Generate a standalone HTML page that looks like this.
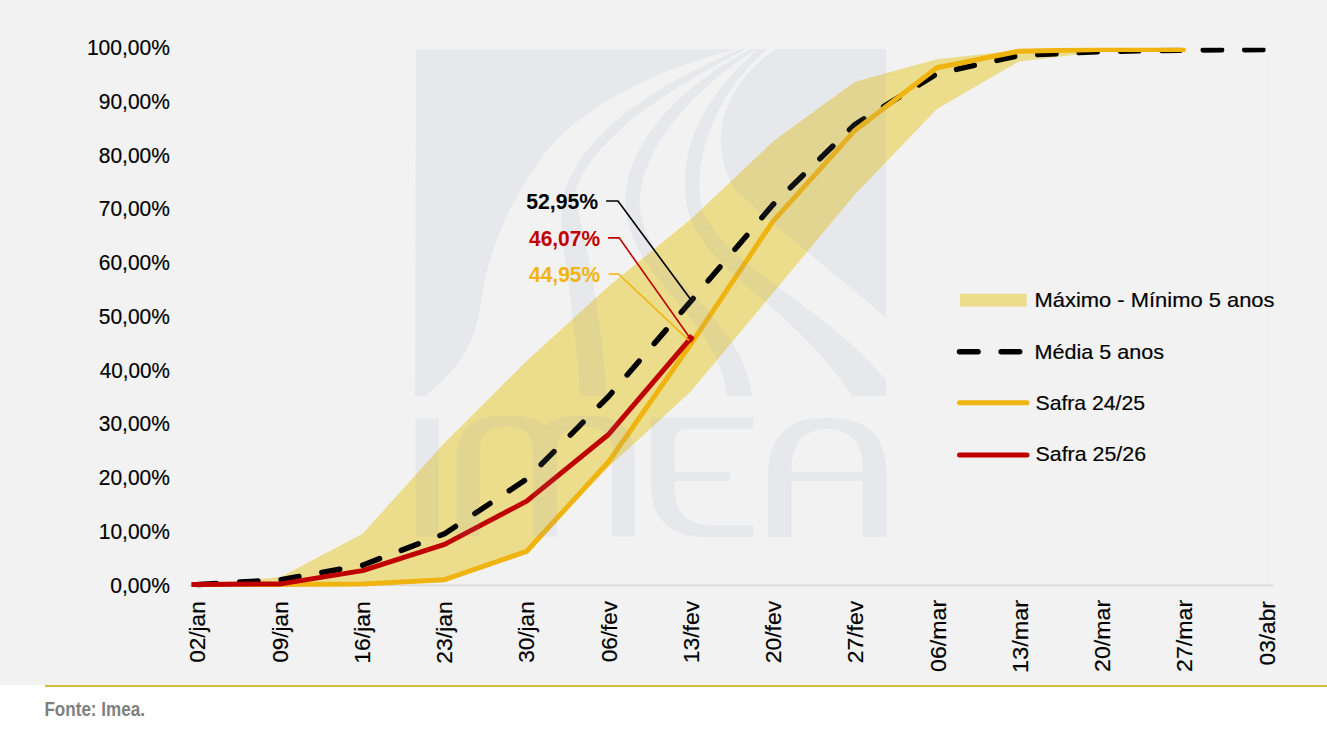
<!DOCTYPE html>
<html><head><meta charset="utf-8"><style>
html,body{margin:0;padding:0;width:1327px;height:732px;overflow:hidden;background:#fff;font-family:"Liberation Sans",sans-serif}
svg{display:block}
</style></head><body>
<svg width="1327" height="732" viewBox="0 0 1327 732" font-family='"Liberation Sans", sans-serif'>
<defs><clipPath id="pa"><rect x="150" y="47.8" width="1177" height="560"/></clipPath></defs>
<rect x="0" y="0" width="1327" height="685" fill="#f2f2f2"/>
<rect x="0" y="685" width="1327" height="47" fill="#ffffff"/>
<rect x="45" y="685" width="1282" height="2" fill="#d6bc3c"/>
<polygon points="198.5,584.5 280.6,577.0 362.6,533.7 444.6,442.8 526.7,360.9 608.8,286.0 690.8,219.2 772.9,141.6 854.9,81.7 936.9,59.2 1019.0,50.1 1101.0,49.6 1183.1,49.6 1265.1,49.6 1265.1,49.6 1183.1,49.6 1101.0,51.7 1019.0,61.4 936.9,109.0 854.9,194.6 772.9,293.0 690.8,391.4 608.8,466.8 526.7,551.3 444.6,579.7 362.6,584.0 280.6,584.5 198.5,584.5" fill="#ecdd8c"/>
<rect x="189" y="584.6" width="1084" height="1.5" fill="#d8d8d8"/><rect x="1267.2" y="52" width="1" height="533" fill="#eeeeee"/>
<polyline points="198.5,584.5 280.6,579.7 362.6,565.2 444.6,533.7 526.7,479.1 608.8,396.2 690.8,301.3 772.9,204.7 854.9,124.5 936.9,73.7 1019.0,55.5 1101.0,51.5 1183.1,50.1 1265.1,49.6" fill="none" stroke="#000" stroke-width="5.5" stroke-dasharray="18.2 23.2" stroke-dashoffset="0.1" stroke-linecap="round" stroke-linejoin="round" clip-path="url(#pa)"/>
<polyline points="198.5,584.5 280.6,584.5 362.6,584.0 444.6,579.7 526.7,551.3 608.8,461.5 690.8,344.1 772.9,221.3 854.9,130.4 936.9,67.8 1019.0,51.2 1101.0,49.6 1183.1,49.6" fill="none" stroke="#f0b411" stroke-width="5" stroke-linejoin="round" stroke-linecap="square" clip-path="url(#pa)"/>
<polyline points="191.4,584.5 198.5,584.5 280.6,583.9 362.6,570.6 444.6,544.4 526.7,501.1 608.8,434.2 690.8,338.1" fill="none" stroke="#c00000" stroke-width="5" stroke-linejoin="round"/>
<g fill="#969ebe" opacity="0.11">
<path d="M416,49.2 L738,49.2 C655,68 575,110 540,160 C505,210 490,250 483,290 C476,335 470,360 425,396 L415,396 Z"/>
<path d="M741,49 C655,85 585,130 563,195 C556,230 575,300 580,396 L607,396 C600,300 584,235 574,195 C590,140 665,90 747,49 Z"/>
<path d="M750,49 C675,90 620,150 626,210 C632,280 720,320 727,396 L752,396 C740,310 650,280 640,210 C636,150 695,88 757,49 Z"/>
<path d="M758,49 C700,100 680,150 686,200 C695,270 790,300 852,396 L886,396 L886,380 C820,300 710,260 700,200 C695,150 718,92 767,49 Z"/>
<path d="M775,49 L886,49 L886,318 C850,285 790,240 735,190 C712,150 712,95 775,49 Z"/>
<rect x="415.5" y="418.3" width="23.2" height="118.5"/>
<path fill-rule="evenodd" d="M456.8,536.6 V458 Q456.8,415.8 501.8,415.8 H511.8 Q556.8,415.8 556.8,458 V536.6 Z M479.6,536.6 V452 Q479.6,426.7 505.6,426.7 H507 Q533,426.7 533,452 V536.6 Z"/>
<path fill-rule="evenodd" d="M533,536.6 V458 Q533,415.8 578,415.8 H590 Q635,415.8 635,458 V536.6 Z M556.8,536.6 V452 Q556.8,426.7 583,426.7 H586 Q612.3,426.7 612.3,452 V536.6 Z"/>
<path d="M651.3,417.4 H753.3 V428.7 H688 Q674.8,428.7 674.8,442 V471.7 H730.2 V481 H674.8 V490 Q674.8,525.4 715,525.4 H753.3 V536.9 H707 Q651.3,536.9 651.3,485 Z"/>
<path fill-rule="evenodd" d="M768.1,536.9 V475 Q768.1,418 825,418 H830 Q886.5,418 886.5,475 V536.9 Z M791.6,536.9 V481 H862.7 V536.9 Z M791.6,471.7 H862.7 V468 Q862.7,428.7 825,428.7 H830 Q791.6,428.7 791.6,468 Z"/>
</g>

<text x="110.20" y="592.50" font-size="21.50" textLength="59.70" lengthAdjust="spacingAndGlyphs" fill="#000" stroke="#000" stroke-width="0.18">0,00%</text>
<text x="98.80" y="538.78" font-size="21.50" textLength="71.10" lengthAdjust="spacingAndGlyphs" fill="#000" stroke="#000" stroke-width="0.18">10,00%</text>
<text x="98.80" y="485.06" font-size="21.50" textLength="71.10" lengthAdjust="spacingAndGlyphs" fill="#000" stroke="#000" stroke-width="0.18">20,00%</text>
<text x="98.80" y="431.34" font-size="21.50" textLength="71.10" lengthAdjust="spacingAndGlyphs" fill="#000" stroke="#000" stroke-width="0.18">30,00%</text>
<text x="99.80" y="377.62" font-size="21.50" textLength="70.10" lengthAdjust="spacingAndGlyphs" fill="#000" stroke="#000" stroke-width="0.18">40,00%</text>
<text x="98.80" y="323.90" font-size="21.50" textLength="71.10" lengthAdjust="spacingAndGlyphs" fill="#000" stroke="#000" stroke-width="0.18">50,00%</text>
<text x="98.80" y="270.18" font-size="21.50" textLength="71.10" lengthAdjust="spacingAndGlyphs" fill="#000" stroke="#000" stroke-width="0.18">60,00%</text>
<text x="98.80" y="216.46" font-size="21.50" textLength="71.10" lengthAdjust="spacingAndGlyphs" fill="#000" stroke="#000" stroke-width="0.18">70,00%</text>
<text x="98.80" y="162.74" font-size="21.50" textLength="71.10" lengthAdjust="spacingAndGlyphs" fill="#000" stroke="#000" stroke-width="0.18">80,00%</text>
<text x="98.80" y="109.02" font-size="21.50" textLength="71.10" lengthAdjust="spacingAndGlyphs" fill="#000" stroke="#000" stroke-width="0.18">90,00%</text>
<text x="86.90" y="55.30" font-size="21.50" textLength="83.00" lengthAdjust="spacingAndGlyphs" fill="#000" stroke="#000" stroke-width="0.18">100,00%</text>
<text x="1034.50" y="306.90" font-size="21.00" textLength="240.00" lengthAdjust="spacingAndGlyphs" fill="#000" stroke="#000" stroke-width="0.18">Máximo - Mínimo 5 anos</text>
<text x="1034.50" y="358.70" font-size="21.00" textLength="129.50" lengthAdjust="spacingAndGlyphs" fill="#000" stroke="#000" stroke-width="0.18">Média 5 anos</text>
<text x="1035.50" y="409.80" font-size="21.00" textLength="109.60" lengthAdjust="spacingAndGlyphs" fill="#000" stroke="#000" stroke-width="0.18">Safra 24/25</text>
<text x="1035.50" y="461.20" font-size="21.00" textLength="110.60" lengthAdjust="spacingAndGlyphs" fill="#000" stroke="#000" stroke-width="0.18">Safra 25/26</text>
<text x="526.20" y="208.60" font-size="21.40" font-weight="bold" textLength="72.00" lengthAdjust="spacingAndGlyphs" fill="#000000">52,95%</text>
<text x="529.00" y="245.50" font-size="21.40" font-weight="bold" textLength="71.00" lengthAdjust="spacingAndGlyphs" fill="#c00000">46,07%</text>
<text x="529.00" y="281.50" font-size="21.40" font-weight="bold" textLength="71.10" lengthAdjust="spacingAndGlyphs" fill="#f0b411">44,95%</text>
<text x="44.40" y="715.70" font-size="19.40" font-weight="bold" textLength="100.60" lengthAdjust="spacingAndGlyphs" fill="#7f7f7f">Fonte: Imea.</text>
<text transform="translate(205.00,662.70) rotate(-90)" x="0" y="0" font-size="21.5" textLength="61.40" lengthAdjust="spacingAndGlyphs" fill="#000" stroke="#000" stroke-width="0.18">02/jan</text>
<text transform="translate(287.75,662.70) rotate(-90)" x="0" y="0" font-size="21.5" textLength="61.40" lengthAdjust="spacingAndGlyphs" fill="#000" stroke="#000" stroke-width="0.18">09/jan</text>
<text transform="translate(369.50,663.70) rotate(-90)" x="0" y="0" font-size="21.5" textLength="62.40" lengthAdjust="spacingAndGlyphs" fill="#000" stroke="#000" stroke-width="0.18">16/jan</text>
<text transform="translate(452.25,663.70) rotate(-90)" x="0" y="0" font-size="21.5" textLength="62.40" lengthAdjust="spacingAndGlyphs" fill="#000" stroke="#000" stroke-width="0.18">23/jan</text>
<text transform="translate(534.00,662.70) rotate(-90)" x="0" y="0" font-size="21.5" textLength="61.40" lengthAdjust="spacingAndGlyphs" fill="#000" stroke="#000" stroke-width="0.18">30/jan</text>
<text transform="translate(616.75,662.30) rotate(-90)" x="0" y="0" font-size="21.5" textLength="61.40" lengthAdjust="spacingAndGlyphs" fill="#000" stroke="#000" stroke-width="0.18">06/fev</text>
<text transform="translate(698.50,663.30) rotate(-90)" x="0" y="0" font-size="21.5" textLength="62.40" lengthAdjust="spacingAndGlyphs" fill="#000" stroke="#000" stroke-width="0.18">13/fev</text>
<text transform="translate(781.25,663.30) rotate(-90)" x="0" y="0" font-size="21.5" textLength="62.40" lengthAdjust="spacingAndGlyphs" fill="#000" stroke="#000" stroke-width="0.18">20/fev</text>
<text transform="translate(863.00,663.30) rotate(-90)" x="0" y="0" font-size="21.5" textLength="62.40" lengthAdjust="spacingAndGlyphs" fill="#000" stroke="#000" stroke-width="0.18">27/fev</text>
<text transform="translate(945.75,671.90) rotate(-90)" x="0" y="0" font-size="21.5" textLength="72.00" lengthAdjust="spacingAndGlyphs" fill="#000" stroke="#000" stroke-width="0.18">06/mar</text>
<text transform="translate(1027.50,672.90) rotate(-90)" x="0" y="0" font-size="21.5" textLength="73.00" lengthAdjust="spacingAndGlyphs" fill="#000" stroke="#000" stroke-width="0.18">13/mar</text>
<text transform="translate(1110.25,671.90) rotate(-90)" x="0" y="0" font-size="21.5" textLength="72.00" lengthAdjust="spacingAndGlyphs" fill="#000" stroke="#000" stroke-width="0.18">20/mar</text>
<text transform="translate(1192.00,671.90) rotate(-90)" x="0" y="0" font-size="21.5" textLength="72.00" lengthAdjust="spacingAndGlyphs" fill="#000" stroke="#000" stroke-width="0.18">27/mar</text>
<text transform="translate(1274.75,665.40) rotate(-90)" x="0" y="0" font-size="21.5" textLength="64.30" lengthAdjust="spacingAndGlyphs" fill="#000" stroke="#000" stroke-width="0.18">03/abr</text>
<rect x="-3.3" y="-3.3" width="6.6" height="6.6" rx="1.6" transform="translate(690.4,338.4) rotate(38)" fill="#c00000"/>
<polyline points="606.1,201.0 618.0,201.0 690.0,298.5" fill="none" stroke="#000000" stroke-width="1.6"/>
<polyline points="608.1,237.9 619.2,237.9 690.0,338.0" fill="none" stroke="#c00000" stroke-width="1.6"/>
<polyline points="608.7,274.0 618.5,274.0 688.9,340.3" fill="none" stroke="#f0b411" stroke-width="1.6"/>
<rect x="960" y="293.8" width="66.6" height="12.9" fill="#ecdd8c"/>
<line x1="959.5" y1="351.8" x2="1022" y2="351.8" stroke="#000" stroke-width="5.4" stroke-dasharray="18.6 23" stroke-linecap="round"/>
<line x1="959.5" y1="402.8" x2="1027" y2="402.8" stroke="#f0b411" stroke-width="5" stroke-linecap="round"/>
<line x1="959.5" y1="455" x2="1027" y2="455" stroke="#c00000" stroke-width="5" stroke-linecap="round"/>
</svg>
</body></html>
